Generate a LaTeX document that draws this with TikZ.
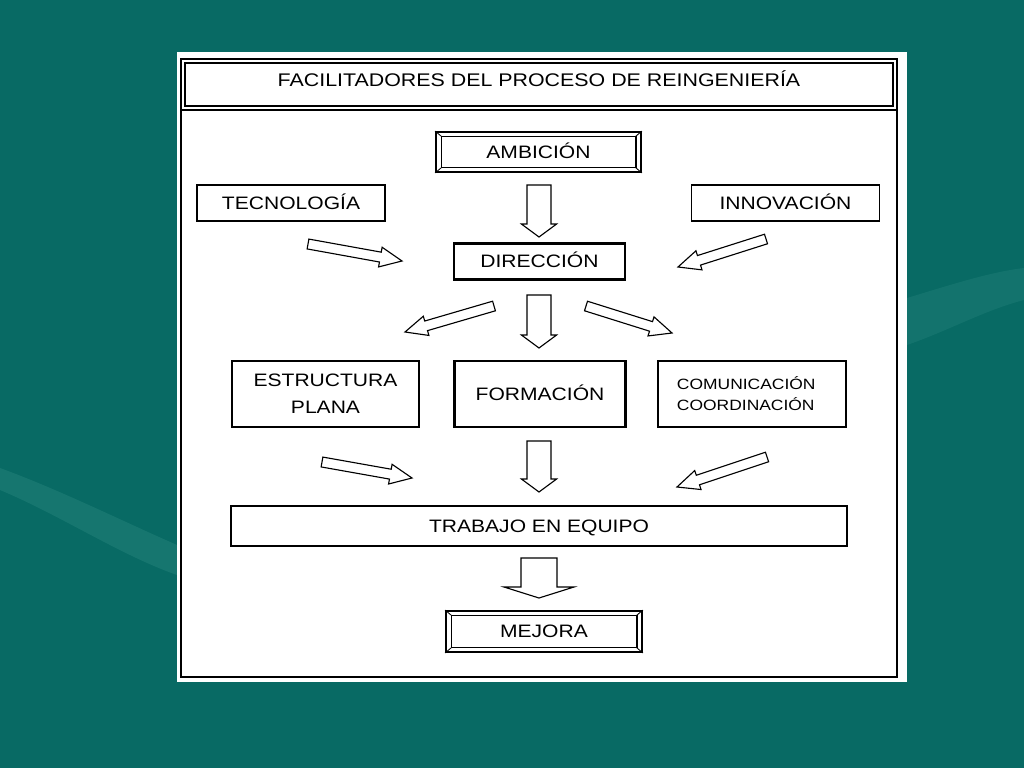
\documentclass[tikz,border=0pt]{standalone}
\usepackage{fontspec}
\setmainfont{Liberation Sans}[FakeStretch=1.17]
\usetikzlibrary{calc}

\definecolor{slide}{RGB}{8,106,100}
\definecolor{swoosh}{RGB}{40,134,126}

\newcommand{\blockarrow}[5]{%
	\path (#2) coordinate (bk-tip) ($(#2)!#5!(#1)$) coordinate (bk-neck);
	\draw[blk] ($(#1)!#3!90:(bk-tip)$) -- ($(bk-neck)!#3!90:(bk-tip)$) -- ($(bk-neck)!#4!90:(bk-tip)$) -- (bk-tip)
		-- ($(bk-neck)!#4!-90:(bk-tip)$) -- ($(bk-neck)!#3!-90:(bk-tip)$) -- ($(#1)!#3!-90:(bk-tip)$) -- cycle;}

\begin{document}
\begin{tikzpicture}[x=0.025cm,y=-0.025cm]
	\tikzstyle{box}=[draw,line width=0.8pt,inner sep=0pt,align=center,font=\fontsize{12.8}{19}\selectfont]
	\tikzstyle{onerow}=[text height=9.2pt,text depth=0pt]
	\tikzstyle{heavy}=[box,line width=2pt]
	\tikzstyle{blk}=[draw,fill=white,line width=0.8pt,line join=miter]
	
	\fill[slide] (0,0) rectangle (1024,768);
	\fill[swoosh,opacity=0.45] (0,468) .. controls (60,490) and (120,520) .. (177,545) -- (177,575) .. controls (120,555) and (60,515) .. (0,490) -- cycle;
	\fill[swoosh,opacity=0.35] (907,298) .. controls (950,285) and (990,272) .. (1024,268) -- (1024,300) .. controls (985,310) and (950,330) .. (907,345) -- cycle;
	\fill[white] (177,52) rectangle (907,682);
	
	\draw[line width=1.2pt] (181,59) rectangle (897,677);
	\draw[line width=1.2pt] (185,63) rectangle (893,106);
	\draw[line width=1.2pt] (181,110) -- (897,110);
	\node[font=\fontsize{13}{15}\selectfont,onerow] (title) at (539,80) {FACILITADORES DEL PROCESO DE REINGENIERÍA};
	
	\node[box,onerow,line width=1.3pt,minimum width=5.125cm,minimum height=1cm] (amb) at (538.5,152) {AMBICIÓN};
	\node[box,onerow,minimum width=4.7cm,minimum height=0.9cm] (tec) at (291,203) {TECNOLOGÍA};
	\node[box,onerow,minimum width=4.7cm,minimum height=0.9cm] (inn) at (785.5,203) {INNOVACIÓN};
	\node[heavy,onerow,minimum width=4.275cm,minimum height=0.9cm] (dir) at (539.5,261.5) {DIRECCIÓN};
	
	\node[box,minimum width=4.675cm,minimum height=1.65cm] (est) at (325.5,394) {ESTRUCTURA\\PLANA};
	\node[heavy,onerow,minimum width=4.275cm,minimum height=1.65cm] (for) at (540,394) {FORMACIÓN};
	\node[box,align=left,text width=3.75cm,inner xsep=0.475cm,minimum height=1.65cm,font=\fontsize{10.6}{15}\selectfont] (com) at (752,394) {COMUNICACIÓN\\COORDINACIÓN};
	
	\node[heavy,onerow,minimum width=15.4cm,minimum height=1cm] (tra) at (539,526) {TRABAJO EN EQUIPO};
	\node[box,onerow,line width=1.3pt,minimum width=4.9cm,minimum height=1.025cm] (mej) at (544,631.5) {MEJORA};
	
	\foreach \b in {amb,mej}{
		\draw[line width=0.8pt] ($(\b.north west)+(6,5)$) rectangle ($(\b.south east)+(-6,-5)$);
		\draw[line width=0.6pt] (\b.north west) -- +(6,5) (\b.north east) -- +(-6,5) (\b.south west) -- +(6,-5) (\b.south east) -- +(-6,-5);
	}
	
	\coordinate (tec-a) at (308,244);
	\coordinate (tec-b) at (402,261);
	\coordinate (inn-a) at (766,239);
	\coordinate (inn-b) at (678,267);
	\coordinate (amb-a) at (539,185);
	\coordinate (amb-b) at (539,237);
	\coordinate (dl-a) at (494,306);
	\coordinate (dl-b) at (405,332);
	\coordinate (dm-a) at (539,295);
	\coordinate (dm-b) at (539,348);
	\coordinate (dr-a) at (586,306);
	\coordinate (dr-b) at (672,333);
	\coordinate (est-a) at (322,462);
	\coordinate (est-b) at (412,478);
	\coordinate (for-a) at (539,441);
	\coordinate (for-b) at (539,492);
	\coordinate (com-a) at (767,457);
	\coordinate (com-b) at (677,487);
	\coordinate (tra-a) at (539,558);
	\coordinate (tra-b) at (539,598);
	
	\foreach \a in {tec,inn,dl,dr,est,com}
		\blockarrow{\a-a}{\a-b}{0.125cm}{0.25cm}{0.55cm};
	\foreach \a in {amb,dm,for}
		\blockarrow{\a-a}{\a-b}{0.3cm}{0.44cm}{0.325cm};
	\blockarrow{tra-a}{tra-b}{0.45cm}{0.875cm}{0.275cm};
	
\end{tikzpicture}
\end{document}
